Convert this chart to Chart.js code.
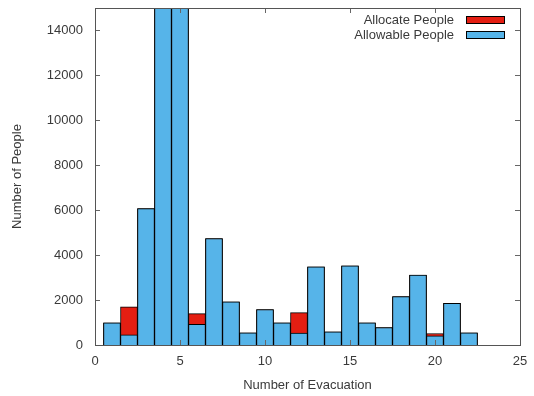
<!DOCTYPE html>
<html>
<head>
<meta charset="utf-8">
<script src="https://cdn.jsdelivr.net/npm/chart.js@4.4.0/dist/chart.umd.min.js"></script>
<style>
  html, body { margin: 0; padding: 0; background: #fff; }
  #wrap { width: 534px; height: 396px; }
</style>
</head>
<body>
<div id="wrap"><canvas id="myChart"></canvas></div>
<script>
// evacuation number on the x axis
var evacuations = [1, 2, 3, 4, 5, 6, 7, 8, 9, 10, 11, 12, 13, 14, 15, 16, 17, 18, 19, 20, 21, 22];
var allocatePeople = [990, 1700, 6070, 16500, 15800, 1400, 4740, 1920, 540, 1580, 990, 1440, 3480, 590, 3520, 990, 780, 2150, 3110, 510, 1850, 540];
var allowablePeople = [990, 450, 6070, 16500, 15800, 920, 4740, 1920, 540, 1580, 990, 530, 3480, 590, 3520, 990, 780, 2150, 3110, 410, 1850, 540];
var seriesNames = ["Allocate People", "Allowable People"];
var seriesColors = ["#e41e12", "#56b4e9"];
var xTicks = [0, 5, 10, 15, 20, 25];
var yTicks = [0, 2000, 4000, 6000, 8000, 10000, 12000, 14000];

var FONT = "Liberation Sans, Arial, sans-serif";
var TEXT = "#3a3a3a";

function points(vals) {
    return evacuations.map(function (x, i) { return { x: x, y: vals[i] }; });
}

// gnuplot style frame: box border, inward ticks on all four sides, legend at top right
var framePlugin = {
    id: 'frame',
    afterDraw: function (chart) {
        var ctx = chart.ctx, a = chart.chartArea;
        var xs = chart.scales.x, ys = chart.scales.y;
        ctx.save();
        ctx.strokeStyle = "#666666";
        ctx.lineWidth = 1;
        ctx.beginPath();
        xTicks.forEach(function (t) {
            var px = Math.round(xs.getPixelForValue(t)) + 0.5;
            ctx.moveTo(px, a.bottom); ctx.lineTo(px, a.bottom - 5);
            ctx.moveTo(px, a.top); ctx.lineTo(px, a.top + 5);
        });
        yTicks.forEach(function (t) {
            var py = Math.round(ys.getPixelForValue(t)) + 0.5;
            ctx.moveTo(a.left, py); ctx.lineTo(a.left + 5, py);
            ctx.moveTo(a.right, py); ctx.lineTo(a.right - 5, py);
        });
        ctx.stroke();
        ctx.strokeStyle = "#555555";
        ctx.strokeRect(Math.round(a.left) + 0.5, Math.round(a.top) + 0.5,
            Math.round(a.right - a.left), Math.round(a.bottom - a.top));

        // legend: text right aligned, swatch after it
        ctx.font = "13px " + FONT;
        ctx.textAlign = "right";
        ctx.textBaseline = "middle";
        seriesNames.forEach(function (name, i) {
            var y = 20 + i * 15;
            ctx.fillStyle = TEXT;
            ctx.fillText(name, 454, y);
            ctx.fillStyle = seriesColors[i];
            ctx.fillRect(466, y - 3, 38, 7);
            ctx.strokeStyle = "#000";
            ctx.strokeRect(466.5, y - 3.5, 38, 7);
        });
        ctx.restore();
    }
};

new Chart(document.getElementById("myChart"), {
    type: 'bar',
    data: {
        datasets: [{
            label: seriesNames[0],
            data: points(allocatePeople),
            backgroundColor: seriesColors[0],
            borderColor: "#000",
            borderWidth: 1,
            order: 1
        }, {
            label: seriesNames[1],
            data: points(allowablePeople),
            backgroundColor: seriesColors[1],
            borderColor: "#000",
            borderWidth: 1,
            order: 0
        }]
    },
    options: {
        responsive: true,
        maintainAspectRatio: false,
        animation: false,
        layout: { padding: { top: 8, right: 14, left: 0, bottom: 0 } },
        datasets: { bar: { grouped: false, barPercentage: 1, categoryPercentage: 1 } },
        plugins: {
            legend: { display: false },
            tooltip: { enabled: false }
        },
        scales: {
            x: {
                type: 'linear',
                min: 0, max: 25,
                offset: false,
                afterBuildTicks: function (s) { s.ticks = xTicks.map(function (v) { return { value: v }; }); },
                grid: { display: false, drawTicks: false },
                border: { display: false },
                ticks: { color: TEXT, font: { family: FONT, size: 13 }, padding: 9, maxRotation: 0,
                    callback: function (v) { return String(v); } },
                title: { display: true, text: "Number of Evacuation", color: TEXT, font: { family: FONT, size: 13 }, padding: { top: 6, bottom: 3 } },
                afterFit: function (s) { s.height = 51; s.paddingLeft = 0; s.paddingRight = 0; }
            },
            y: {
                min: 0, max: 15000,
                afterBuildTicks: function (s) { s.ticks = yTicks.map(function (v) { return { value: v }; }); },
                grid: { display: false, drawTicks: false },
                border: { display: false },
                ticks: { color: TEXT, font: { family: FONT, size: 13 }, padding: 12,
                    callback: function (v) { return String(v); } },
                title: { display: true, text: "Number of People", color: TEXT, font: { family: FONT, size: 13 }, padding: { top: 10, bottom: 4 } },
                afterFit: function (s) { s.width = 95; s.paddingTop = 0; s.paddingBottom = 0; }
            }
        }
    },
    plugins: [framePlugin]
});
</script>
</body>
</html>
